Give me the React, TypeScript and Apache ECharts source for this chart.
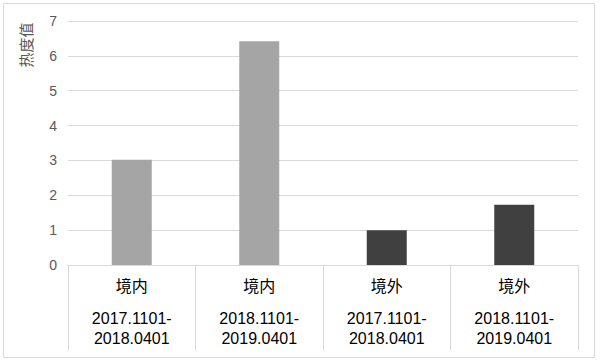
import React, { useEffect, useRef } from "react";
import * as echarts from "echarts";

const regions = ["境内", "境内", "境外", "境外"];
const periods = ["2017.1101-\n2018.0401", "2018.1101-\n2019.0401", "2017.1101-\n2018.0401", "2018.1101-\n2019.0401"];
const values = [3.02, 6.42, 1.0, 1.73];
const regionColors: Record<string, string> = { "境内": "#a5a5a5", "境外": "#404040" };
const yAxisName = "热度值";

const FONT = "'Liberation Sans', 'Noto Sans CJK SC', sans-serif";

export default function App() {
  const ref = useRef<HTMLDivElement>(null);
  useEffect(() => {
    document.body.style.margin = "0";
    const chart = echarts.init(ref.current!, null, { renderer: "svg" });
    const cats = regions.map((r, i) => r + "|" + i);
    chart.setOption({
      animation: false,
      backgroundColor: "#ffffff",
      grid: { left: 68, right: 22, top: 21, bottom: 97, containLabel: false },
      graphic: [
        {
          type: "rect",
          shape: { x: 3.5, y: 3.5, width: 591, height: 354 },
          style: { fill: "none", stroke: "#d9d9d9", lineWidth: 1 },
          silent: true,
        },
        {
          type: "text",
          x: 25,
          y: 45,
          rotation: Math.PI / 2,
          style: {
            text: yAxisName,
            font: "15px 'Noto Sans CJK SC', sans-serif",
            fill: "#595959",
            align: "center",
            verticalAlign: "middle",
          },
        },
      ],
      xAxis: [
        {
          type: "category",
          data: cats,
          position: "bottom",
          axisLine: { show: true, lineStyle: { color: "#d9d9d9", width: 1 } },
          axisTick: { show: true, interval: 0, length: 85, lineStyle: { color: "#d9d9d9", width: 1 } },
          axisLabel: {
            interval: 0,
            margin: 13,
            color: "#000000",
            fontSize: 16,
            lineHeight: 16,
            fontFamily: FONT,
            formatter: (v: string) => v.split("|")[0],
          },
          splitLine: { show: false },
        },
        {
          type: "category",
          data: periods,
          position: "bottom",
          axisLine: { show: false },
          axisTick: { show: false },
          axisLabel: {
            interval: 0,
            margin: 43,
            color: "#000000",
            fontSize: 16,
            lineHeight: 20,
            fontFamily: FONT,
          },
          splitLine: { show: false },
        },
      ],
      yAxis: {
        type: "value",
        min: 0,
        max: 7,
        interval: 1,
        axisLine: { show: false },
        axisTick: { show: false },
        axisLabel: { color: "#595959", fontSize: 14, margin: 11, fontFamily: FONT },
        splitLine: { show: true, lineStyle: { color: "#d9d9d9", width: 1 } },
      },
      series: [
        {
          type: "bar",
          xAxisIndex: 0,
          barWidth: 40,
          data: values.map((v, i) => ({ value: v, itemStyle: { color: regionColors[regions[i]] } })),
        },
      ],
    });
    return () => chart.dispose();
  }, []);
  return <div ref={ref} style={{ width: 600, height: 362 }} />;
}
